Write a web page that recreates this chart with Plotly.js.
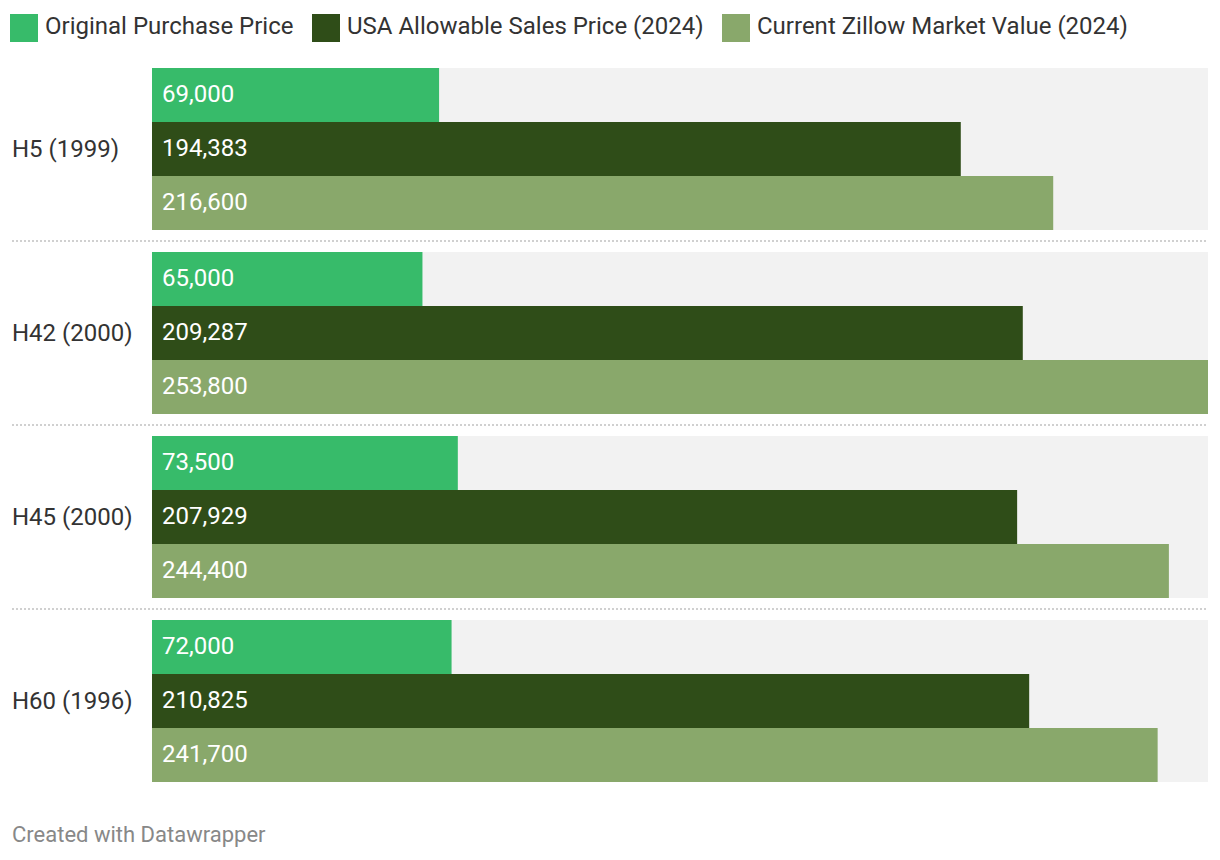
<!DOCTYPE html>
<html><head><meta charset="utf-8">
<script src="https://cdn.plot.ly/plotly-3.0.1.min.js"></script>
<style>html,body{margin:0;padding:0;background:#fff}#chart{width:1220px;height:860px}</style>
</head><body><div id="chart"></div>
<script>
const categories = ["H5 (1999)", "H42 (2000)", "H45 (2000)", "H60 (1996)"];
const seriesNames = ["Original Purchase Price", "USA Allowable Sales Price (2024)", "Current Zillow Market Value (2024)"];
const originalPurchase = [69000, 65000, 73500, 72000];
const usaAllowable = [194383, 209287, 207929, 210825];
const zillowValue = [216600, 253800, 244400, 241700];
const colors = ["#37bb6a", "#2f4d18", "#89a86b"];

const W = 1220, H = 860, L = 152, R = 12, T = 57, B = 67;
const pw = W - L - R, ph = H - T - B;
const px = x => (x - L) / pw;
const py = y => 1 - (y - T) / ph;

const series = [originalPurchase, usaAllowable, zillowValue];
const maxVal = Math.max(...series.flat());
const groupW = 0.8804, barW = groupW / 3;
const font = "Roboto, 'Noto Sans', sans-serif";

const traces = [{
  type: "bar", orientation: "h", y: categories, x: categories.map(() => maxVal),
  width: groupW, offset: -groupW / 2, marker: {color: "#f2f2f2"},
  hoverinfo: "skip", showlegend: false
}];
series.forEach((vals, k) => {
  traces.push({
    type: "bar", orientation: "h", name: seriesNames[k], y: categories, x: vals,
    width: barW, offset: -groupW / 2 + k * barW, marker: {color: colors[k]},
    showlegend: false
  });
});

const annotations = [];
const shapes = [];
series.forEach((vals, k) => {
  vals.forEach((v, i) => {
    annotations.push({
      xref: "x", yref: "y", x: 0, y: i - groupW / 2 + (k + 0.5) * barW,
      xanchor: "left", yanchor: "middle", xshift: 8, yshift: 1, showarrow: false,
      text: v.toLocaleString("en-US"), font: {family: font, size: 24, color: "#ffffff"}
    });
  });
});
categories.forEach((c, i) => {
  annotations.push({
    xref: "paper", yref: "y", x: px(10), y: i, xanchor: "left", yanchor: "middle",
    showarrow: false, text: c, font: {family: font, size: 24, color: "#333333"}
  });
  if (i < categories.length - 1) {
    shapes.push({
      type: "line", xref: "paper", yref: "y", x0: px(12), x1: 1, y0: i + 0.5, y1: i + 0.5,
      line: {color: "#d0d0d0", width: 2, dash: "2px,2px"}
    });
  }
});
// legend
const legendX = [10, 312, 722];
seriesNames.forEach((n, k) => {
  shapes.push({
    type: "rect", xref: "paper", yref: "paper",
    x0: px(legendX[k]), x1: px(legendX[k] + 28), y0: py(42), y1: py(14),
    fillcolor: colors[k], line: {width: 0}
  });
  annotations.push({
    xref: "paper", yref: "paper", x: px(legendX[k] + 33), y: py(26),
    xanchor: "left", yanchor: "middle", showarrow: false, text: n,
    font: {family: font, size: 24, color: "#333333"}
  });
});
annotations.push({
  xref: "paper", yref: "paper", x: px(10), y: py(834), xanchor: "left", yanchor: "middle",
  showarrow: false, text: "Created with Datawrapper", font: {family: font, size: 22, color: "#888888"}
});

const layout = {
  width: W, height: H, margin: {l: L, r: R, t: T, b: B},
  paper_bgcolor: "#ffffff", plot_bgcolor: "#ffffff",
  barmode: "overlay", showlegend: false,
  xaxis: {range: [0, maxVal], visible: false, fixedrange: true},
  yaxis: {type: "category", range: [categories.length - 0.5, -0.5], showticklabels: false,
          showgrid: false, zeroline: false, showline: false, ticks: "", fixedrange: true},
  annotations, shapes, font: {family: font}
};
Plotly.newPlot("chart", traces, layout, {displayModeBar: false, staticPlot: true});
</script></body></html>
